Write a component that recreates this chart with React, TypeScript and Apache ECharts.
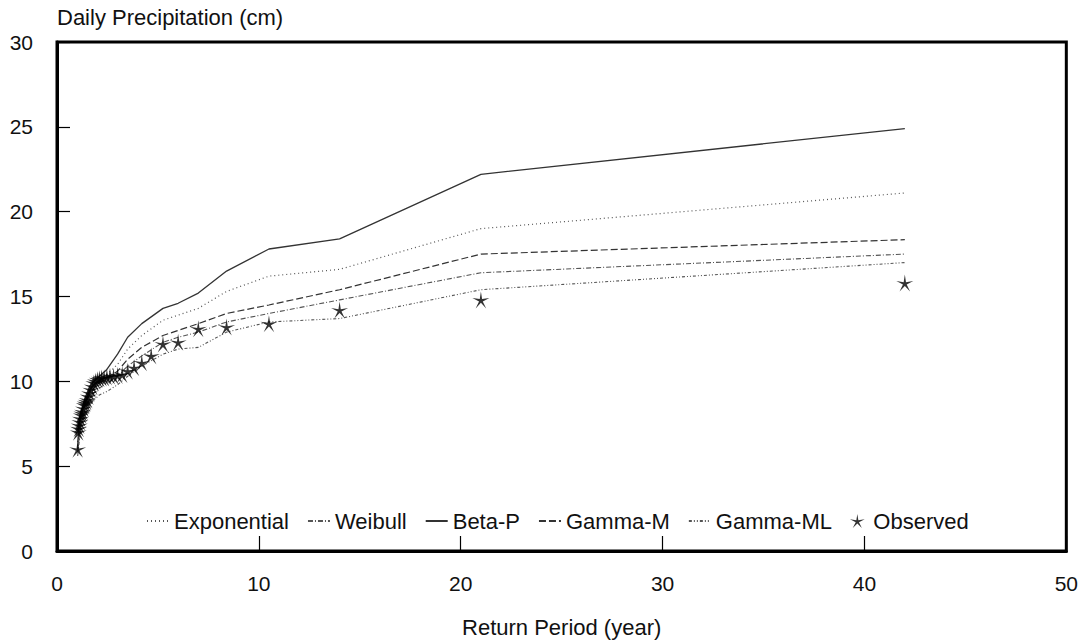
import React, { useEffect, useRef } from "react";
import * as echarts from "echarts";

// Return periods (years) of the observed annual maxima (Weibull plotting positions)
const observedT = [1.024, 1.05, 1.077, 1.105, 1.135, 1.167, 1.2, 1.235, 1.273, 1.313, 1.355, 1.4, 1.448, 1.5, 1.556, 1.615, 1.68, 1.75, 1.826, 1.909, 2.0, 2.1, 2.211, 2.333, 2.471, 2.625, 2.8, 3.0, 3.231, 3.5, 3.818, 4.2, 4.667, 5.25, 6.0, 7.0, 8.4, 10.5, 14.0, 21.0, 42.0];
const observedP = [6.0, 7.0, 7.2, 7.4, 7.6, 7.8, 8.0, 8.1, 8.2, 8.4, 8.6, 8.7, 8.8, 8.9, 9.1, 9.3, 9.5, 9.7, 9.9, 10.0, 10.1, 10.15, 10.2, 10.2, 10.25, 10.3, 10.3, 10.35, 10.4, 10.6, 10.8, 11.1, 11.5, 12.2, 12.3, 13.1, 13.2, 13.4, 14.2, 14.8, 15.8];

// Return periods at which the fitted distributions are drawn
const fitT = [1.024, 1.105, 1.2, 1.313, 1.448, 1.615, 1.826, 2.1, 2.471, 3.0, 3.5, 4.2, 5.25, 6.0, 7.0, 8.4, 10.5, 14.0, 21.0, 42.0];
const exponential = [6.2, 7.2, 7.9, 8.5, 9.0, 9.4, 9.8, 10.1, 10.4, 11.0, 11.9, 12.7, 13.6, 13.9, 14.3, 15.3, 16.2, 16.6, 19.0, 21.1];
const weibull = [5.8, 6.8, 7.5, 8.1, 8.6, 9.0, 9.3, 9.6, 9.9, 10.3, 10.9, 11.5, 12.3, 12.6, 12.9, 13.5, 14.0, 14.8, 16.4, 17.5];
const betaP = [6.4, 7.4, 8.1, 8.7, 9.2, 9.7, 10.0, 10.3, 10.7, 11.6, 12.6, 13.4, 14.3, 14.6, 15.2, 16.5, 17.8, 18.4, 22.2, 24.9];
const gammaM = [6.0, 7.0, 7.7, 8.3, 8.8, 9.2, 9.6, 9.9, 10.2, 10.6, 11.3, 12.0, 12.7, 13.0, 13.4, 14.0, 14.5, 15.4, 17.5, 18.35];
const gammaML = [5.6, 6.5, 7.2, 7.8, 8.2, 8.6, 8.9, 9.2, 9.4, 9.8, 10.3, 10.9, 11.6, 11.9, 12.0, 12.9, 13.5, 13.7, 15.4, 17.0];

const xTicks = { min: 0, max: 50, interval: 10 };
const yTicks = { min: 0, max: 30, interval: 5 };

const STAR =
  "path://M0,-10 L1.3,-1.8 L9.51,-3.09 L2.1,0.69 L5.88,8.09 L0,2.2 L-5.88,8.09 L-2.1,0.69 L-9.51,-3.09 L-1.3,-1.8 Z";

const FONT = "'Liberation Sans', Arial, Helvetica, sans-serif";

function pairs(xs: number[], ys: number[]) {
  return xs.map((x, i) => [x, ys[i]]);
}

export default function App() {
  const ref = useRef<HTMLDivElement>(null);
  useEffect(() => {
    if (!ref.current) return;
    const chart = echarts.init(ref.current, undefined, { renderer: "svg" });
    const lineSeries = (name: string, data: number[], type: any, color: string, width: number) => ({
      name,
      type: "line",
      data: pairs(fitT, data),
      symbol: "circle",
      symbolSize: 0,
      showSymbol: false,
      lineStyle: { color, width, type },
      itemStyle: { color: "rgba(0,0,0,0)", borderWidth: 0 },
      z: 2,
    });
    chart.setOption({
      animation: false,
      backgroundColor: "#fff",
      textStyle: { fontFamily: FONT },
      grid: {
        left: 57,
        top: 42,
        right: 13,
        bottom: 91,
        show: true,
        borderColor: "#000",
        borderWidth: 3,
      },
      graphic: [
        {
          type: "text",
          left: 57,
          top: 6,
          style: {
            text: "Daily Precipitation (cm)",
            fontSize: 22,
            fontFamily: FONT,
            fill: "#111",
          },
        },
      ],
      legend: {
        left: 146,
        top: 510,
        padding: 0,
        itemWidth: 22,
        itemHeight: 14,
        itemGap: 18,
        textStyle: { fontSize: 22, color: "#111", fontFamily: FONT },
        data: [
          { name: "Exponential" },
          { name: "Weibull" },
          { name: "Beta-P" },
          { name: "Gamma-M" },
          { name: "Gamma-ML" },
          { name: "Observed", icon: STAR, itemStyle: { color: "#000" } },
        ],
      },
      xAxis: {
        type: "value",
        ...xTicks,
        name: "Return Period (year)",
        nameLocation: "middle",
        nameGap: 65,
        nameTextStyle: { fontSize: 22, color: "#111", fontFamily: FONT },
        axisLine: { show: true, lineStyle: { color: "#000", width: 3 } },
        axisTick: { show: true, inside: true, length: 15, lineStyle: { color: "#000", width: 1.2 } },
        axisLabel: { fontSize: 21, color: "#111", margin: 22, fontFamily: FONT },
        splitLine: { show: false },
      },
      yAxis: {
        type: "value",
        ...yTicks,
        axisLine: { show: true, lineStyle: { color: "#000", width: 3 } },
        axisTick: { show: true, inside: true, length: 13, lineStyle: { color: "#000", width: 1.2 } },
        axisLabel: { fontSize: 21, color: "#111", margin: 24, fontFamily: FONT },
        splitLine: { show: false },
      },
      series: [
        lineSeries("Exponential", exponential, [1, 3], "#555", 1.2),
        lineSeries("Weibull", weibull, [5, 2, 1, 2], "#555", 1.1),
        lineSeries("Beta-P", betaP, "solid", "#333", 1.3),
        lineSeries("Gamma-M", gammaM, [7, 3], "#333", 1.2),
        lineSeries("Gamma-ML", gammaML, [3, 2, 1, 2, 1, 2], "#555", 1.1),
        {
          name: "Observed",
          type: "scatter",
          data: pairs(observedT, observedP),
          symbol: STAR,
          symbolSize: 17,
          itemStyle: { color: "#000" },
          z: 3,
        },
      ],
    });
    return () => chart.dispose();
  }, []);
  return (
    <div
      ref={ref}
      style={{ position: "fixed", left: 0, top: 0, width: 1081, height: 643, background: "#fff" }}
    />
  );
}
